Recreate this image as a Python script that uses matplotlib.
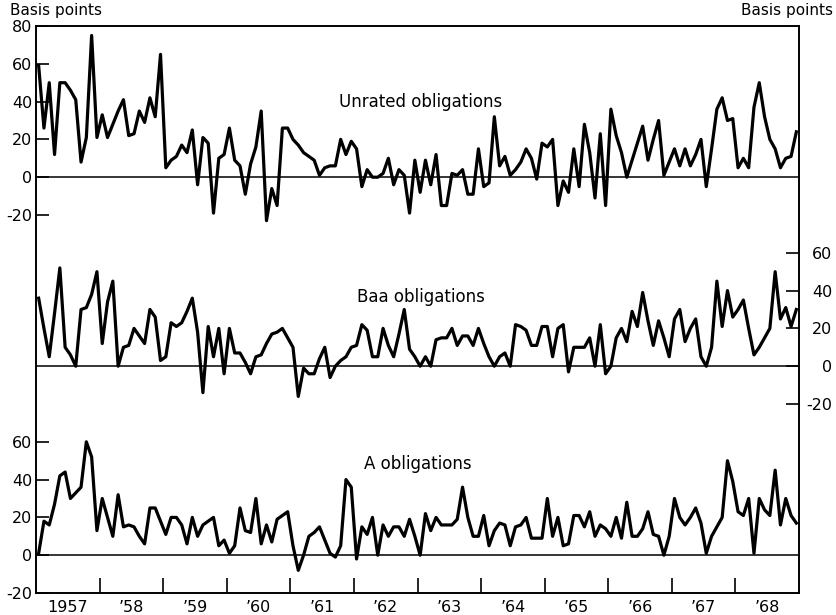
import numpy as np
import matplotlib
matplotlib.use('Agg')
import matplotlib.pyplot as plt

# monthly yield spreads, Jan 1957 - Dec 1968 (basis points)
unrated = [59, 26, 50, 12, 50, 50, 46, 41, 8, 21, 75, 21,
           33, 21, 28, 35, 41, 22, 23, 35, 29, 42, 32, 65,
           5, 9, 11, 17, 13, 25, -4, 21, 18, -19, 10, 12,
           26, 9, 6, -9, 7, 16, 35, -23, -6, -15, 26, 26,
           20, 17, 13, 11, 9, 1, 5, 6, 6, 20, 12, 19,
           15, -5, 4, 0, 0, 2, 10, -4, 4, 1, -19, 9,
           -8, 9, -4, 12, -15, -15, 2, 1, 4, -9, -9, 15,
           -5, -3, 32, 6, 11, 1, 4, 8, 15, 10, -1, 18,
           16, 20, -15, -2, -8, 15, -5, 28, 13, -11, 23, -15,
           36, 22, 13, 0, 9, 18, 27, 9, 20, 30, 1, 8,
           15, 6, 15, 6, 12, 20, -5, 15, 36, 42, 30, 31,
           5, 10, 5, 37, 50, 32, 20, 15, 5, 10, 11, 24]

baa = [36, 20, 5, 28, 52, 10, 6, 0, 30, 31, 38, 50,
       12, 34, 45, 0, 10, 11, 20, 16, 12, 30, 26, 3,
       5, 23, 21, 23, 29, 36, 18, -14, 21, 5, 20, -4,
       20, 7, 7, 2, -4, 5, 6, 12, 17, 18, 20, 15,
       10, -16, -1, -4, -4, 4, 10, -6, 0, 3, 5, 10,
       11, 22, 19, 5, 5, 20, 11, 5, 17, 30, 9, 5,
       0, 5, 0, 14, 15, 15, 20, 11, 16, 16, 11, 20,
       12, 5, 0, 5, 7, 0, 22, 21, 19, 11, 11, 21,
       21, 5, 20, 22, -3, 10, 10, 10, 15, 0, 22, -4,
       0, 15, 20, 13, 29, 21, 39, 24, 11, 24, 15, 5,
       25, 30, 13, 20, 25, 5, 0, 10, 45, 21, 40, 26,
       30, 35, 20, 6, 10, 15, 20, 50, 25, 31, 21, 30]

aRated = [1, 18, 16, 27, 42, 44, 30, 33, 36, 60, 52, 13,
          30, 20, 10, 32, 15, 16, 15, 10, 6, 25, 25, 18,
          11, 20, 20, 16, 6, 20, 10, 16, 18, 20, 5, 8,
          1, 5, 25, 13, 12, 30, 6, 16, 7, 19, 21, 23,
          5, -8, 0, 10, 12, 15, 8, 1, -1, 5, 40, 36,
          -2, 15, 11, 20, 0, 16, 10, 15, 15, 10, 19, 10,
          0, 22, 13, 20, 16, 16, 16, 19, 36, 20, 10, 10,
          21, 5, 13, 17, 16, 5, 15, 16, 20, 9, 9, 9,
          30, 10, 20, 5, 6, 21, 21, 15, 23, 10, 16, 14,
          10, 20, 9, 28, 10, 10, 14, 23, 11, 10, 0, 10,
          30, 20, 16, 20, 25, 17, 1, 10, 15, 20, 50, 39,
          23, 21, 30, 1, 30, 24, 21, 45, 16, 30, 21, 17]

years = list(range(1957, 1969))
yearLabels = ['1957'] + ['\u2019%02d' % (y % 100) for y in years[1:]]

# vertical offset of each panel inside the single frame
offA, offBaa, offUnrated = 0, 100, 200

months = np.arange(len(unrated))
t = 1957 + (months + 0.5) / 12.0

fig = plt.figure(figsize=(8.36, 6.15), dpi=100)
ax = fig.add_axes([36 / 836, 22 / 615, 763 / 836, 567 / 615])

lw = 2.3
ax.plot(t, np.array(unrated) + offUnrated, color='black', lw=lw)
ax.plot(t, np.array(baa) + offBaa, color='black', lw=lw)
ax.plot(t, np.array(aRated) + offA, color='black', lw=lw)
for off in (offA, offBaa, offUnrated):
    ax.axhline(off, color='black', lw=1.1)

ax.set_xlim(1957, 1969)
ax.set_ylim(-20, 280)

# left scale: A (bottom) and Unrated (top)
leftVals = [-20, 0, 20, 40, 60]
upperVals = [-20, 0, 20, 40, 60, 80]
ax.set_yticks([v + offA for v in leftVals] + [v + offUnrated for v in upperVals])
ax.set_yticklabels([str(v) for v in leftVals] + [str(v) for v in upperVals])
ax.tick_params(axis='y', direction='in', length=9.5, width=1.2,
               labelsize=11.5, pad=2.5)

# years
ax.set_xticks(years[1:])
ax.set_xticklabels([])
ax.set_xticks([y + 0.5 for y in years], minor=True)
ax.set_xticklabels(yearLabels, minor=True)
ax.tick_params(axis='x', which='major', direction='in', length=11, width=1.2)
ax.tick_params(axis='x', which='minor', length=0, labelsize=11.5, pad=5)

# right scale: Baa
ax2 = ax.twinx()
ax2.set_ylim(-20, 280)
baaVals = [-20, 0, 20, 40, 60]
ax2.set_yticks([v + offBaa for v in baaVals])
ax2.set_yticklabels([str(v) for v in baaVals])
ax2.tick_params(axis='y', direction='in', length=9.5, width=1.2,
                labelsize=11.5, pad=24)
for lbl in ax2.get_yticklabels():
    lbl.set_ha('right')

for a in (ax, ax2):
    for s in a.spines.values():
        s.set_linewidth(1.2)

ax.text(1963.05, 240, 'Unrated obligations', ha='center', va='center', fontsize=12)
ax.text(1963.05, 136.6, 'Baa obligations', ha='center', va='center', fontsize=12)
ax.text(1963.0, 48.4, 'A obligations', ha='center', va='center', fontsize=12)

fig.text(10 / 836, 1 - 10 / 615, 'Basis points', ha='left', va='center', fontsize=11)
fig.text(833 / 836, 1 - 10 / 615, 'Basis points', ha='right', va='center', fontsize=11)

fig.savefig('out.png', dpi=100)
